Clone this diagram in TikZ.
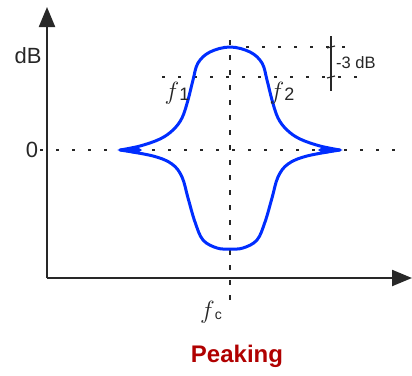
\documentclass[tikz,border=0pt]{standalone}
\usepackage{fontspec}
\setmainfont{Liberation Sans}
\usetikzlibrary{arrows.meta}
\definecolor{curveblue}{RGB}{0,45,255}
\definecolor{axisgray}{RGB}{40,40,40}
\definecolor{peakred}{RGB}{176,0,0}
\begin{document}
\begin{tikzpicture}[x=1pt,y=-1pt,
  axisline/.style={line width=2.2pt,draw=axisgray,-{Triangle[length=20pt,width=16pt]}},
  dotline/.style={line width=2pt,draw=black!85,dash pattern=on 3pt off 13pt},
  dashline/.style={line width=2pt,draw=black!85,dash pattern=on 5pt off 10pt},
  curve/.style={line width=3pt,draw=curveblue,line join=round,line cap=round},
  tipfill/.style={fill=curveblue},
  lbl/.style={inner sep=0pt,text=black!85},
]
\useasboundingbox (0,0) rectangle (412,375);
% axes
\draw[axisline] (47,278) -- (47,7);
\draw[axisline] (47,278) -- (412,278);
% reference lines
\draw[dotline] (40,150) -- (402,150);
\draw[dashline] (230,40) -- (230,302);
\draw[dotline] (230,47) -- (356,47);
\draw[dotline] (162,77) -- (358,77);
\draw[line width=2pt,draw=axisgray] (331,36) -- (331,91);
\draw[line width=1.2pt,draw=axisgray] (327,48) -- (335,46);
\draw[line width=1.2pt,draw=axisgray] (327,78) -- (335,76);
% curve
\draw[curve] plot[smooth,tension=0.6] coordinates {(120,150) (140,146) (160,139) (173,130) (182,118) (188,100) (193,80) (198,63) (210,52) (230,47) (250,52) (262,63) (267,80) (272,100) (278,118) (287,130) (300,139) (320,146) (340,150)};
\draw[curve] plot[smooth,tension=0.6] coordinates {(120,150) (153,156) (172,164) (182,177) (188,198) (195,222) (203,240) (217,248) (230,249) (243,248) (257,240) (265,222) (272,198) (278,177) (288,164) (307,156) (340,150)};
\fill[tipfill] (117,150) -- (136,146) -- (142,150) -- (136,154) -- cycle;
\fill[tipfill] (343,150) -- (324,146) -- (318,150) -- (324,154) -- cycle;
% labels
\node[lbl,font=\fontsize{22}{22}\selectfont] (dB) at (28,56) {dB};
\node[lbl,font=\fontsize{22}{22}\selectfont] (zero) at (32,150) {0};
\node[lbl,anchor=west,font=\fontsize{16.5}{16.5}\selectfont] (m3) at (336,63) {-3 dB};
\node[lbl,font=\fontsize{23}{23}\selectfont] (f1) at (177,93) {$f$\raisebox{-1pt}{\fontsize{18}{18}\selectfont 1}};
\node[lbl,font=\fontsize{23}{23}\selectfont] (f2) at (282,93) {$f$\raisebox{-1pt}{\fontsize{18}{18}\selectfont 2}};
\node[lbl,font=\fontsize{23}{23}\selectfont] (fc) at (211,312) {$f$\raisebox{-1pt}{\fontsize{14}{14}\selectfont c}};
\node[inner sep=0pt,text=peakred,font=\fontsize{24}{24}\selectfont\bfseries] (title) at (237,356) {Peaking};
\end{tikzpicture}
\end{document}
